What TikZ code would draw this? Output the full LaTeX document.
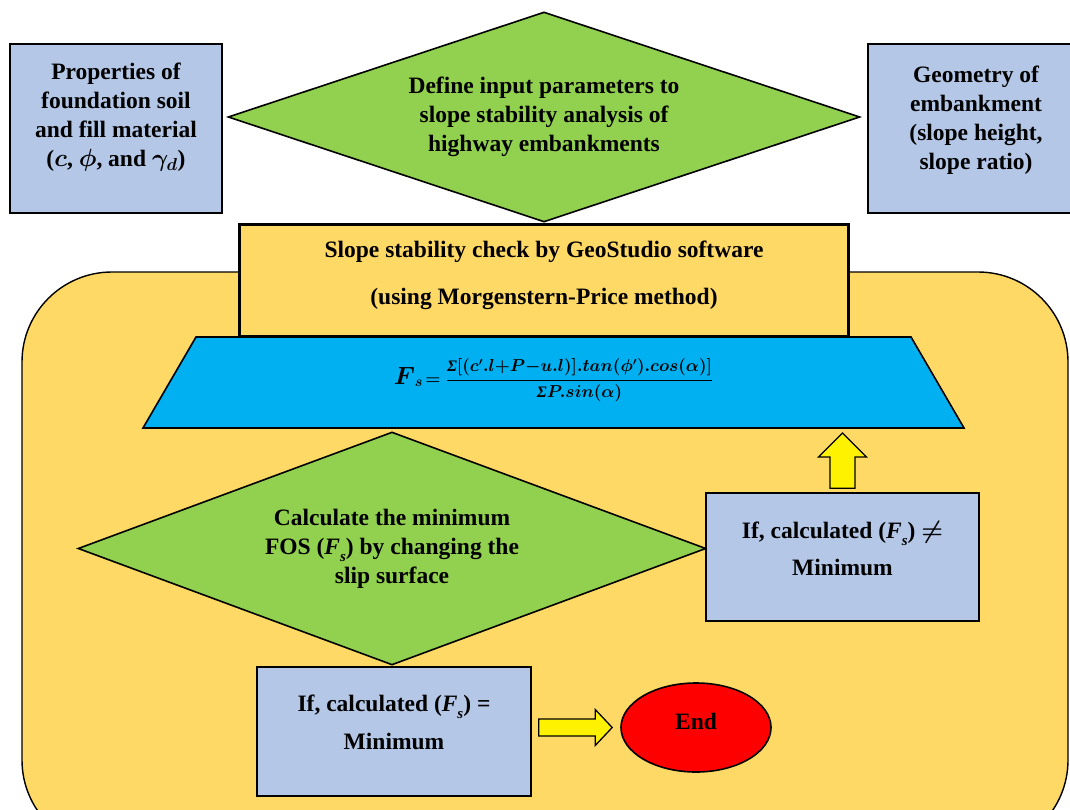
\documentclass[tikz,border=0pt]{standalone}
\usepackage{fontspec}
\setmainfont{Liberation Serif}
\usetikzlibrary{shapes.geometric}
\definecolor{boxblue}{RGB}{180,199,231}
\definecolor{leafgreen}{RGB}{146,208,80}
\definecolor{panelyellow}{RGB}{255,217,102}
\definecolor{trapblue}{RGB}{0,176,240}
\newcommand{\Fsub}{\textit{F}\raisebox{-7pt}{\fontsize{15}{15}\selectfont\textit{s}}}

\begin{document}
\begin{tikzpicture}[x=1pt,y=-1pt]
        \tikzstyle{every node}+=[inner sep=0pt, align=center, font=\fontsize{23.5}{29}\selectfont\bfseries\boldmath]
        \tikzstyle{inbox}=[rectangle, draw=black, line width=1.6pt, fill=boxblue]
        \tikzstyle{choice}=[diamond, draw=black, line width=1.6pt, fill=leafgreen]
        \tikzstyle{fatarrow}=[draw=black, line width=1.3pt, fill=yellow, line join=miter]
        \useasboundingbox (0,0) rectangle (1070,810);
        \begin{scope}
          \clip (0,0) rectangle (1070,810);
          \draw [black, line width=1.4pt, fill=panelyellow, rounded corners=90pt] (22,272) rectangle (1068,850);
        \end{scope}
        % inputs
        \node [inbox, minimum width=212pt, minimum height=169pt] (props) at (116,128.5) {};
        \node at ([yshift=11pt]props.center) {Properties of\\foundation soil\\and fill material\\($c$, $\phi$, and $\gamma_d$)};
        \node [inbox, minimum width=216pt, minimum height=169pt] (geom) at (976,128.5) {};
        \node at ([yshift=8pt]geom.center) {Geometry of\\embankment\\(slope height,\\slope ratio)};
        \node [choice, aspect=3, minimum width=632pt, minimum height=210pt] (define) at (544,117) {Define input parameters to\\slope stability analysis of\\highway embankments};
        % analysis
        \node [rectangle, draw=black, line width=3pt, fill=panelyellow, minimum width=609pt, minimum height=112pt] (geo) at (544,280.5) {};
        \node at ([yshift=5pt]geo.center) {Slope stability check by GeoStudio software\\[18pt](using Morgenstern-Price method)};
        \draw [black, line width=1.6pt, fill=trapblue] (196,337) -- (911,337) -- (964,428) -- (143,428) -- cycle;
        \coordinate (fsbase) at (553.5,428);
        \node (fs) at (553.5,380) {\fontsize{16}{18}\selectfont $\mbox{\fontsize{30}{30}\selectfont$F$}_{\mbox{\fontsize{15}{15}\selectfont$s$}}\!=\displaystyle\frac{\textit{Σ}\Big[\Big(c'.l{+}P{-}u.l\Big)\Big].tan\Big(\phi'\Big).cos(\alpha)\Big]}{\textit{Σ}P.sin(\alpha)}$};
        \node [choice, aspect=2.7, minimum width=628pt, minimum height=233pt] (minfos) at (392,548.5) {Calculate the minimum\\FOS (\Fsub) by changing the\\slip surface};
        \node [inbox, minimum width=273pt, minimum height=128pt] (neq) at (842.5,557) {};
        \node at ([yshift=8.5pt]neq.center) {If, calculated (\Fsub) $\neq$\\[8pt]Minimum};
        \node [inbox, minimum width=274pt, minimum height=129pt] (eq) at (394,731.5) {};
        \node at ([yshift=9.5pt]eq.center) {If, calculated (\Fsub) =\\[9pt]Minimum};
        \node [ellipse, draw=black, line width=1.6pt, fill=red, minimum width=150pt, minimum height=89pt] (finish) at (696,727.5) {};
        \node at ([yshift=6pt]finish.center) {End};
        % block arrows
        \coordinate (uptip) at ([yshift=-5pt]neq.north |- fsbase);
        \draw [fatarrow] ([xshift=-12.5pt,yshift=4pt]neq.north) |- ([xshift=-24pt,yshift=-24pt]uptip) -- (uptip) -- ([xshift=24pt,yshift=-24pt]uptip) -| ([xshift=12.5pt,yshift=4pt]neq.north) -- cycle;
        \coordinate (endtip) at ([xshift=-8pt]finish.west);
        \draw [fatarrow] ([xshift=7pt,yshift=8.5pt]eq.east |- endtip) -| ([xshift=-17pt,yshift=18pt]endtip) -- (endtip) -- ([xshift=-17pt,yshift=-18pt]endtip) |- ([xshift=7pt,yshift=-8.5pt]eq.east |- endtip) -- cycle;
\end{tikzpicture}
\end{document}
